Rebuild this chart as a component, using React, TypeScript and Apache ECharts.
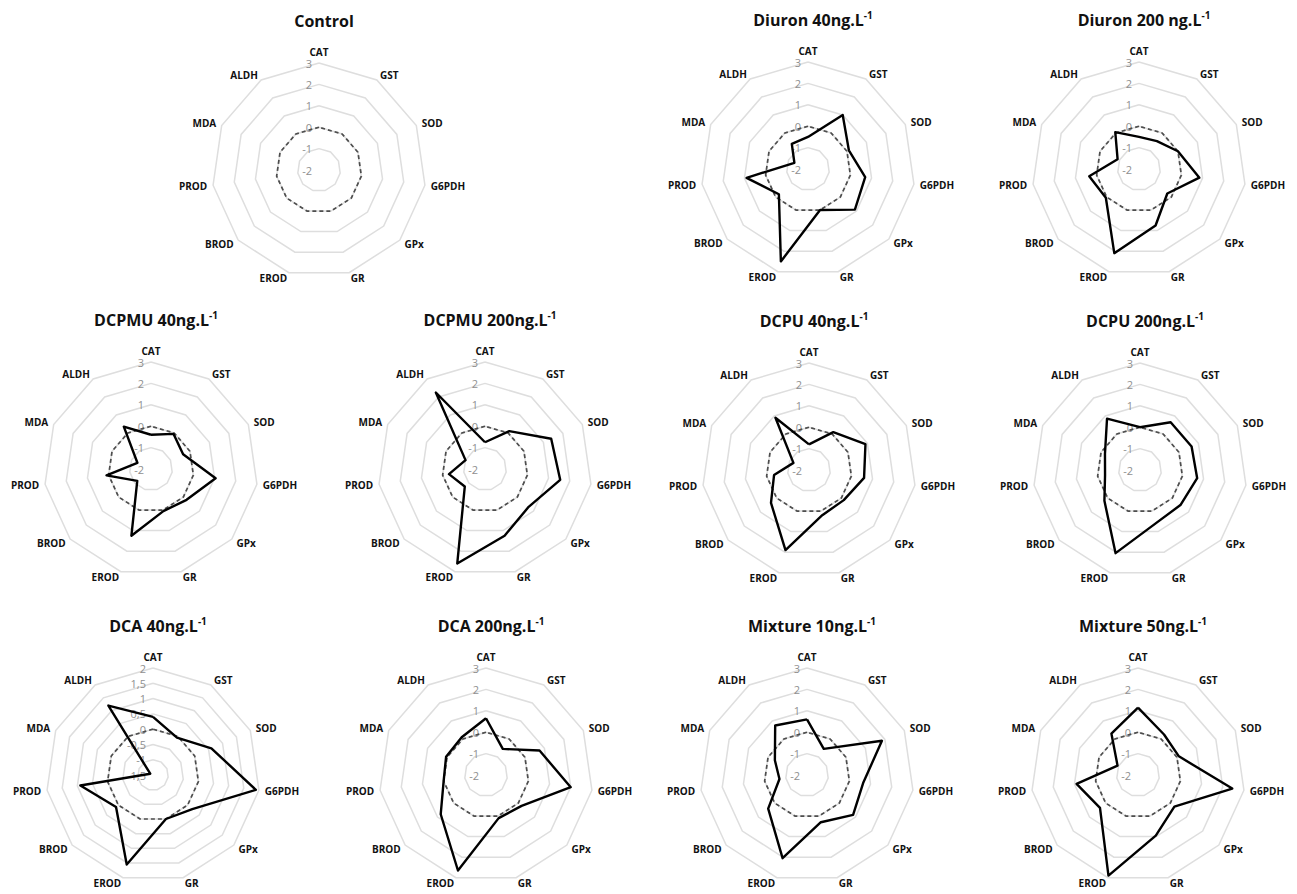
import React, { useEffect, useRef } from "react";
import * as echarts from "echarts";

// ---------- data ----------
const indicatorNames = ["CAT", "GST", "SOD", "G6PDH", "GPx", "GR", "EROD", "BROD", "PROD", "MDA", "ALDH"];

const panelTitles = [
  "Control",
  "Diuron 40ng.L",
  "Diuron 200 ng.L",
  "DCPMU 40ng.L",
  "DCPMU 200ng.L",
  "DCPU 40ng.L",
  "DCPU 200ng.L",
  "DCA 40ng.L",
  "DCA 200ng.L",
  "Mixture 10ng.L",
  "Mixture 50ng.L",
];
const titleSuperscripts = ["", "-1", "-1", "-1", "-1", "-1", "-1", "-1", "-1", "-1", "-1"];

const controlValues = [0, 0, 0, 0, 0, 0, 0, 0, 0, 0, 0];
const diuron40 = [-0.5, 1.0, 0.1, 0.7, 0.9, 0.0, 2.5, -0.2, 0.9, -1.3, -0.6];
const diuron200 = [-0.5, -0.45, 0.0, 0.85, -0.25, 0.75, 2.1, 0.05, 0.35, -0.9, 0.05];
const dcpmu40 = [-0.4, -0.05, -0.35, 1.05, 0.2, 0.05, 1.25, -1.15, 0.1, -1.3, 0.35];
const dcpmu200 = [-0.75, 0.1, 1.4, 1.55, 0.7, 1.25, 2.6, -0.75, -0.3, -1.0, 2.25];
const dcpu40 = [-0.8, 0.1, 0.9, 0.6, 0.15, 0.2, 1.9, 0.35, -0.35, -1.2, 0.9];
const dcpu200 = [0.0, 0.65, 0.65, 0.7, 0.5, 0.6, 2.05, 0.2, -0.35, -0.2, 0.85];
const dca40 = [0.4, -0.05, 0.6, 1.9, 0.2, 0.0, 1.55, 0.1, 0.9, -1.4, 1.2];
const dca200 = [0.65, -0.55, 0.75, 2.0, 0.2, 0.1, 2.65, 0.8, 0.0, 0.05, 0.1];
const mixture10 = [0.6, -0.55, 1.85, 0.65, 0.85, 0.3, 2.05, 0.4, -0.7, -0.35, 0.75];
const mixture50 = [1.15, 0.25, 0.1, 2.45, 0.25, 0.95, 2.9, 0.35, 0.9, -0.95, 0.3];

const treatmentValues: (number[] | null)[] = [
  null, diuron40, diuron200, dcpmu40, dcpmu200, dcpu40, dcpu200, dca40, dca200, mixture10, mixture50,
];

// axis scales (min, max, number of splits)
const axisMin = [-2, -2, -2, -2, -2, -2, -2, -1.5, -2, -2, -2];
const axisMax = [3, 3, 3, 3, 3, 3, 3, 2, 3, 3, 3];
const axisSplits = [5, 5, 5, 5, 5, 5, 5, 7, 5, 5, 5];

// ---------- layout ----------
const centersX = [319, 808, 1139, 151, 485, 809, 1140, 153, 486, 807, 1138];
const centersY = [170, 169, 169, 469, 469, 470, 470, 775, 775, 775, 775];
const RADIUS = 107;
const FONT = "'Open Sans', 'Noto Sans', sans-serif";

export default function App() {
  const ref = useRef<HTMLDivElement>(null);

  useEffect(() => {
    document.body.style.margin = "0";
    if (!ref.current) return;
    const chart = echarts.init(ref.current, undefined, { renderer: "svg" });

    // ECharts radar places indicators counter-clockwise; reverse to get clockwise order
    const order = [0, ...Array.from({ length: indicatorNames.length - 1 }, (_, k) => indicatorNames.length - 1 - k)];
    const reorder = (arr: number[]) => order.map((i) => arr[i]);

    const radars = panelTitles.map((_, p) => ({
      center: [centersX[p], centersY[p]],
      radius: RADIUS,
      startAngle: 90,
      splitNumber: axisSplits[p],
      shape: "polygon",
      nameGap: 6,
      indicator: order.map((i, k) => {
        const ind: any = { name: indicatorNames[i], min: axisMin[p], max: axisMax[p] };
        if (k === 0) ind.axisLabel = { show: true };
        return ind;
      }),
      axisName: { color: "#111", fontSize: 10, fontWeight: "bold", fontFamily: FONT },
      axisLine: { show: false },
      axisTick: { show: false },
      splitArea: { show: false },
      splitLine: { lineStyle: { color: "#dedede", width: 1.5 } },
      axisLabel: {
        show: false,
        color: "#8f8f8f",
        fontSize: 11,
        fontFamily: FONT,
        margin: 7,
        formatter: (v: number) => String(v).replace(".", ","),
      },
    }));

    const series: any[] = [];
    panelTitles.forEach((_, p) => {
      series.push({
        type: "radar",
        radarIndex: p,
        symbol: "none",
        silent: true,
        lineStyle: { color: "#4d4d4d", width: 1.7, type: [4, 3] },
        data: [{ value: reorder(controlValues), name: "Control" }],
      });
      const vals = treatmentValues[p];
      if (vals) {
        series.push({
          type: "radar",
          radarIndex: p,
          symbol: "none",
          silent: true,
          lineStyle: { color: "#000", width: 2.4 },
          data: [{ value: reorder(vals), name: panelTitles[p] }],
        });
      }
    });

    const titles = panelTitles.map((t, p) => ({
      text: titleSuperscripts[p] ? `{b|${t}}{s|${titleSuperscripts[p]}}` : `{b|${t}}`,
      left: centersX[p],
      top: centersY[p] - 164,
      textAlign: "center",
      textStyle: {
        rich: {
          b: { fontSize: 16, fontWeight: "bold", color: "#111", fontFamily: FONT, lineHeight: 20 },
          s: { fontSize: 10, fontWeight: "bold", color: "#111", fontFamily: FONT, verticalAlign: "top", lineHeight: 20, padding: [0, 0, 8, 0] },
        },
      },
    }));

    chart.setOption({
      animation: false,
      backgroundColor: "#fff",
      title: titles,
      radar: radars,
      series,
    });

    return () => chart.dispose();
  }, []);

  return <div ref={ref} style={{ width: 1297, height: 894 }} />;
}
